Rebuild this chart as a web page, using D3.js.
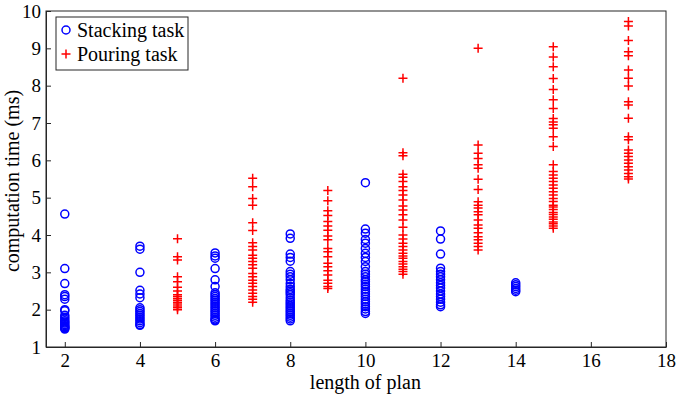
<!DOCTYPE html>
<html>
<head>
<meta charset="utf-8">
<script src="https://cdn.jsdelivr.net/npm/d3@7"></script>
<style>
  body { margin: 0; background: #fff; }
  svg { display: block; }
  svg text { font-family: "Liberation Serif", "Times New Roman", serif; }
</style>
</head>
<body>
<script>
// stacking task: plan length -> measured times (ms)
const stackingLengths = [2, 4, 6, 8, 10, 12, 14];
const stackingTimes = [
  [4.56, 3.1, 2.7, 2.4, 2.35, 2.28, 2.0, 1.97, 1.85, 1.8, 1.75, 1.7, 1.67, 1.64, 1.6, 1.57, 1.54, 1.52, 1.5, 1.48],
  [3.7, 3.62, 3.0, 2.52, 2.42, 2.32, 2.05, 2.0, 1.95, 1.9, 1.85, 1.8, 1.75, 1.7, 1.65, 1.6, 1.58],
  [3.52, 3.44, 3.38, 3.1, 2.8, 2.62, 2.45, 2.4, 2.35, 2.3, 2.25, 2.2, 2.15, 2.1, 2.05, 2.0, 1.95, 1.9, 1.85, 1.8, 1.75, 1.72, 1.7],
  [4.03, 3.91, 3.49, 3.4, 3.3, 3.02, 2.95, 2.88, 2.8, 2.7, 2.62, 2.55, 2.5, 2.45, 2.4, 2.32, 2.25, 2.2, 2.15, 2.1, 2.05, 2.0, 1.95, 1.9, 1.85, 1.8, 1.75, 1.7],
  [5.4, 4.16, 4.05, 3.88, 3.78, 3.64, 3.51, 3.4, 3.29, 3.15, 3.02, 2.95, 2.88, 2.8, 2.75, 2.68, 2.62, 2.55, 2.48, 2.42, 2.35, 2.28, 2.21, 2.15, 2.08, 2.02, 1.95, 1.9],
  [4.11, 3.89, 3.49, 3.11, 3.02, 2.95, 2.88, 2.8, 2.72, 2.65, 2.58, 2.5, 2.42, 2.35, 2.28, 2.2, 2.13, 2.08],
  [2.72, 2.67, 2.62, 2.57, 2.52, 2.48]
];

// pouring task: plan length -> measured times (ms)
const pouringLengths = [5, 7, 9, 11, 13, 15, 17];
const pouringTimes = [
  [3.9, 3.42, 3.33, 2.88, 2.75, 2.6, 2.5, 2.4, 2.35, 2.3, 2.25, 2.2, 2.15, 2.1, 2.05, 2.0],
  [5.52, 5.29, 4.98, 4.8, 4.33, 4.12, 3.79, 3.69, 3.6, 3.46, 3.38, 3.29, 3.2, 3.11, 2.97, 2.88, 2.79, 2.71, 2.62, 2.53, 2.44, 2.35, 2.28, 2.2],
  [5.19, 4.92, 4.65, 4.52, 4.36, 4.24, 4.13, 3.97, 3.87, 3.64, 3.55, 3.42, 3.24, 3.15, 3.04, 2.93, 2.79, 2.71, 2.62, 2.57],
  [8.2, 6.2, 6.12, 5.63, 5.55, 5.43, 5.29, 5.19, 5.07, 4.94, 4.78, 4.67, 4.54, 4.4, 4.21, 4.0, 3.89, 3.78, 3.69, 3.6, 3.51, 3.44, 3.38, 3.29, 3.22, 3.15, 3.08, 3.02, 2.95],
  [9.0, 6.41, 6.19, 6.05, 5.88, 5.79, 5.49, 5.22, 4.89, 4.8, 4.72, 4.62, 4.54, 4.4, 4.27, 4.18, 4.06, 3.95, 3.87, 3.78, 3.69, 3.6],
  [9.04, 8.77, 8.51, 8.19, 7.9, 7.62, 7.39, 7.12, 7.03, 6.95, 6.86, 6.63, 6.37, 5.88, 5.7, 5.61, 5.52, 5.43, 5.34, 5.25, 5.16, 5.07, 4.98, 4.9, 4.8, 4.75, 4.68, 4.6, 4.55, 4.48, 4.42, 4.35, 4.3, 4.24, 4.18],
  [9.72, 9.6, 9.21, 8.91, 8.8, 8.42, 8.2, 7.99, 7.57, 7.48, 7.13, 6.63, 6.55, 6.28, 6.19, 6.1, 6.01, 5.92, 5.83, 5.74, 5.65, 5.56, 5.5]
];

const xTicks = [2, 4, 6, 8, 10, 12, 14, 16, 18];
const yTicks = [1, 2, 3, 4, 5, 6, 7, 8, 9, 10];
const seriesNames = ["Stacking task", "Pouring task"];

const width = 676, height = 394;
const margin = { top: 11, right: 10, bottom: 47, left: 46 };
const tickFont = "19px";
const labelFont = "20px";

const svg = d3.select("body").append("svg")
  .attr("width", width)
  .attr("height", height);

const x = d3.scaleLinear().domain([1.5, 18]).range([margin.left, width - margin.right]);
const y = d3.scaleLinear().domain([1, 10]).range([height - margin.bottom, margin.top]);

const axisColor = "#262626";

// frame
svg.append("rect")
  .attr("x", margin.left).attr("y", margin.top)
  .attr("width", width - margin.left - margin.right)
  .attr("height", height - margin.top - margin.bottom)
  .attr("fill", "none").attr("stroke", axisColor).attr("stroke-width", 1);

const xAxis = svg.append("g")
  .attr("transform", `translate(0,${height - margin.bottom})`)
  .call(d3.axisBottom(x).tickValues(xTicks).tickSize(-5).tickPadding(6).tickSizeOuter(0));

const yAxis = svg.append("g")
  .attr("transform", `translate(${margin.left},0)`)
  .call(d3.axisLeft(y).tickValues(yTicks).tickSize(-5).tickPadding(5).tickSizeOuter(0));

[xAxis, yAxis].forEach(g => {
  g.attr("font-family", null).attr("font-size", null);
  g.select(".domain").attr("stroke", axisColor);
  g.selectAll(".tick line").attr("stroke", axisColor);
  g.selectAll(".tick text")
    .attr("fill", "#000")
    .style("font-size", tickFont);
});
xAxis.selectAll(".tick text").attr("dy", "0.72em");

// axis titles
svg.append("text")
  .attr("x", x(10))
  .attr("y", 389)
  .attr("text-anchor", "middle")
  .style("font-size", labelFont)
  .text("length of plan");

svg.append("text")
  .attr("transform", `translate(19,${(margin.top + height - margin.bottom) / 2 + 2}) rotate(-90)`)
  .attr("text-anchor", "middle")
  .style("font-size", labelFont)
  .text("computation time (ms)");

// flatten for drawing
const stackPts = stackingLengths.flatMap((len, i) => stackingTimes[i].map(t => ({ len, t })));
const pourPts = pouringLengths.flatMap((len, i) => pouringTimes[i].map(t => ({ len, t })));

const plusPath = (cx, cy, s) => `M${cx - s},${cy}H${cx + s}M${cx},${cy - s}V${cy + s}`;

svg.append("g").selectAll("circle")
  .data(stackPts)
  .join("circle")
  .attr("cx", d => x(d.len))
  .attr("cy", d => y(d.t))
  .attr("r", 4)
  .attr("fill", "none")
  .attr("stroke", "#0000ff")
  .attr("stroke-width", 1.5);

svg.append("g").selectAll("path")
  .data(pourPts)
  .join("path")
  .attr("d", d => plusPath(x(d.len), y(d.t), 4.5))
  .attr("fill", "none")
  .attr("stroke", "#ff0000")
  .attr("stroke-width", 1.5);

// legend
const legend = svg.append("g").attr("transform", "translate(56,17)");
legend.append("rect")
  .attr("width", 132).attr("height", 53)
  .attr("fill", "#fff").attr("stroke", axisColor).attr("stroke-width", 1);

legend.append("circle")
  .attr("cx", 10).attr("cy", 13).attr("r", 4)
  .attr("fill", "none").attr("stroke", "#0000ff").attr("stroke-width", 1.5);
legend.append("path")
  .attr("d", plusPath(10, 37, 4.5))
  .attr("stroke", "#ff0000").attr("stroke-width", 1.5);

legend.selectAll("text")
  .data(seriesNames)
  .join("text")
  .attr("x", 21)
  .attr("y", (d, i) => 13 + i * 24)
  .attr("dy", "0.33em")
  .style("font-size", "20px")
  .text(d => d);
</script>
</body>
</html>
